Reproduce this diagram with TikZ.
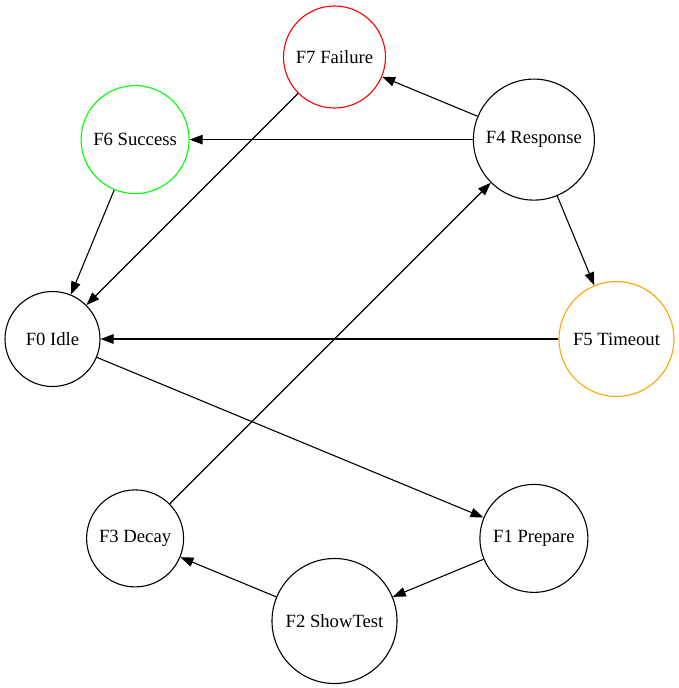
\documentclass[tikz,border=0pt]{standalone}
\usepackage{fontspec}
\setmainfont{Liberation Serif}
\usetikzlibrary{arrows.meta}
\begin{document}
\begin{tikzpicture}[x=1pt,y=-1pt,
  st/.style={circle,draw,line width=1.1pt,inner sep=0pt,font=\fontsize{18.67}{22}\selectfont},
  edge/.style={line width=1.1pt,-{Triangle[length=13pt,width=9.5pt]}}]
\useasboundingbox (0,0) rectangle (679,688);
\def\cx{334.5}\def\cy{339}
\node[st,minimum size=102pt,draw=red] (F7) at (\cx,57) {F7 Failure};
\node[st,minimum size=108pt,draw={rgb,255:red,0;green,255;blue,0}] (F6) at (\cx-199.4,\cy-199.4) {F6 Success};
\node[st,minimum size=121pt] (F4) at (\cx+199.4,\cy-199.4) {F4 Response};
\node[st,minimum size=95pt] (F0) at (52.5,\cy) {F0 Idle};
\node[st,minimum size=115pt,draw={rgb,255:red,255;green,165;blue,0}] (F5) at (616.5,\cy) {F5 Timeout};
\node[st,minimum size=97pt] (F3) at (\cx-199.4,\cy+199.4) {F3 Decay};
\node[st,minimum size=108pt] (F1) at (\cx+199.4,\cy+199.4) {F1 Prepare};
\node[st,minimum size=125pt] (F2) at (\cx,621) {F2 ShowTest};
\draw[edge] (F4) -- (F7);
\draw[edge] (F4) -- (F6);
\draw[edge] (F4) -- (F5);
\draw[edge] (F7) -- (F0);
\draw[edge] (F6) -- (F0);
\draw[edge] (F5) -- (F0);
\draw[edge] (F0) -- (F1);
\draw[edge] (F1) -- (F2);
\draw[edge] (F2) -- (F3);
\draw[edge] (F3) -- (F4);
\end{tikzpicture}
\end{document}
